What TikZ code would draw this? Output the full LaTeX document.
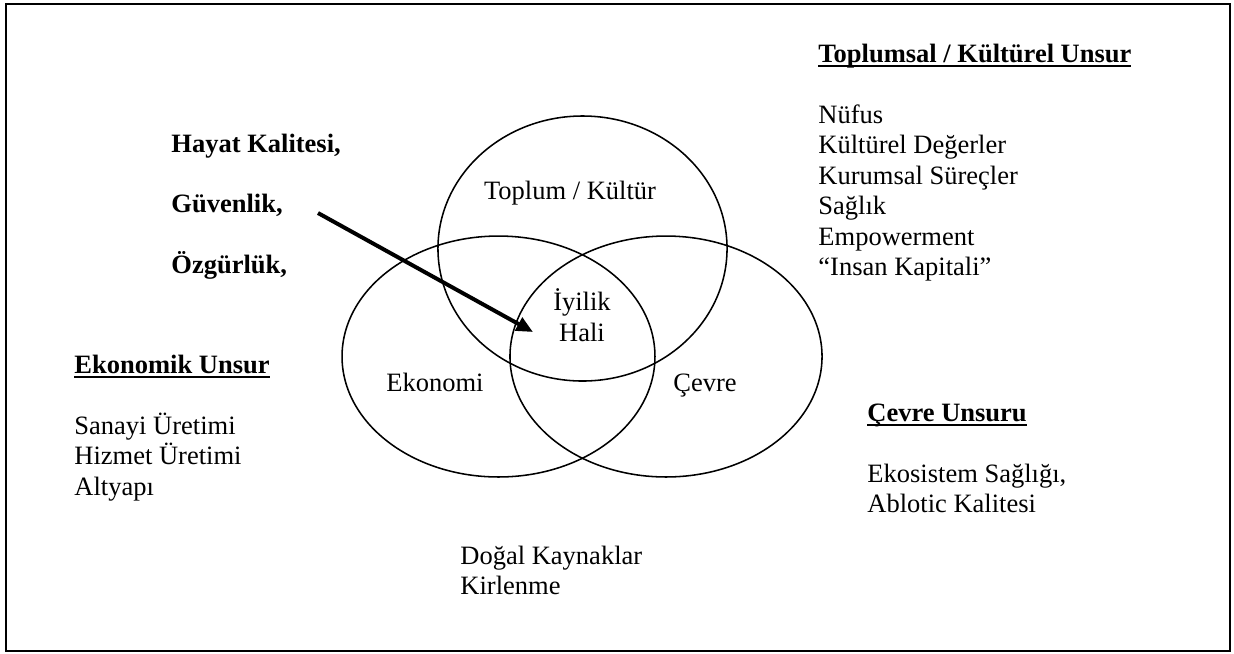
\documentclass[tikz,border=0pt]{standalone}
\usepackage{fontspec}
\setmainfont{Liberation Serif}
\usetikzlibrary{arrows.meta,shapes.geometric}
\newcommand\ulhead[1]{\setbox0\hbox{#1}\rlap{\rule[-2.3pt]{\wd0}{0.9pt}}\box0}
\begin{document}
\begin{tikzpicture}[x=0.4528pt,y=-0.4528pt,
  txt/.style={anchor=base west,inner sep=0pt,font=\fontsize{12}{13.8}\selectfont},
  ctr/.style={anchor=base,inner sep=0pt,font=\fontsize{12}{13.8}\selectfont},
  head/.style={anchor=base west,inner sep=0pt,font=\fontsize{12}{13.8}\selectfont\bfseries},
  venn/.style={draw,ellipse,inner sep=0pt,line width=0.7pt},
  arr/.style={line width=1.8pt,-{Triangle[length=7.5pt,width=6.5pt]}}]
\useasboundingbox (0,0) rectangle (1234,653);
\draw[line width=0.9pt] (6,4) rectangle (1230,651);
% Venn
\node[venn,minimum width=130.9pt,minimum height=120pt] (top) at (582.5,248.5) {};
\node[venn,minimum width=141.7pt,minimum height=109.1pt] (left) at (498.5,356.5) {};
\node[venn,minimum width=141.3pt,minimum height=109.1pt] (right) at (666,356.5) {};
\node[ctr] (tk) at (570,199) {Toplum / Kültür};
\node[ctr] (iy1) at (582,310) {İyilik};
\node[ctr] (iy2) at (582,341) {Hali};
\node[ctr] (ek) at (435,391.5) {Ekonomi};
\node[ctr] (cv) at (705,391.5) {Çevre};
% arrow
\coordinate (a1) at (318,213);
\coordinate (a2) at (533,332);
\draw[arr] (a1) -- (a2);
% left bold list
\node[head] (h1) at (171,152) {Hayat Kalitesi,};
\node[head] (h2) at (171,212) {Güvenlik,};
\node[head] (h3) at (171,273) {Özgürlük,};
% right top
\node[head] (t0) at (818,62) {\ulhead{Toplumsal / Kültürel Unsur}};
\node[txt] (t1) at (818,123) {Nüfus};
\node[txt] (t2) at (818,153.5) {Kültürel Değerler};
\node[txt] (t3) at (818,184) {Kurumsal Süreçler};
\node[txt] (t4) at (818,214.5) {Sağlık};
\node[txt] (t5) at (818,245) {Empowerment};
\node[txt] (t6) at (818,275.5) {“Insan Kapitali”};
% economic
\node[head] (e0) at (74,373) {\ulhead{Ekonomik Unsur}};
\node[txt] (e1) at (74,434) {Sanayi Üretimi};
\node[txt] (e2) at (74,464.5) {Hizmet Üretimi};
\node[txt] (e3) at (74,495) {Altyapı};
% environment
\node[head] (c0) at (867,421) {\ulhead{Çevre Unsuru}};
\node[txt] (c1) at (867,482) {Ekosistem Sağlığı,};
\node[txt] (c2) at (867,512.5) {Ablotic Kalitesi};
% bottom
\node[txt] (b1) at (460,564) {Doğal Kaynaklar};
\node[txt] (b2) at (460,594.5) {Kirlenme};
\end{tikzpicture}
\end{document}
